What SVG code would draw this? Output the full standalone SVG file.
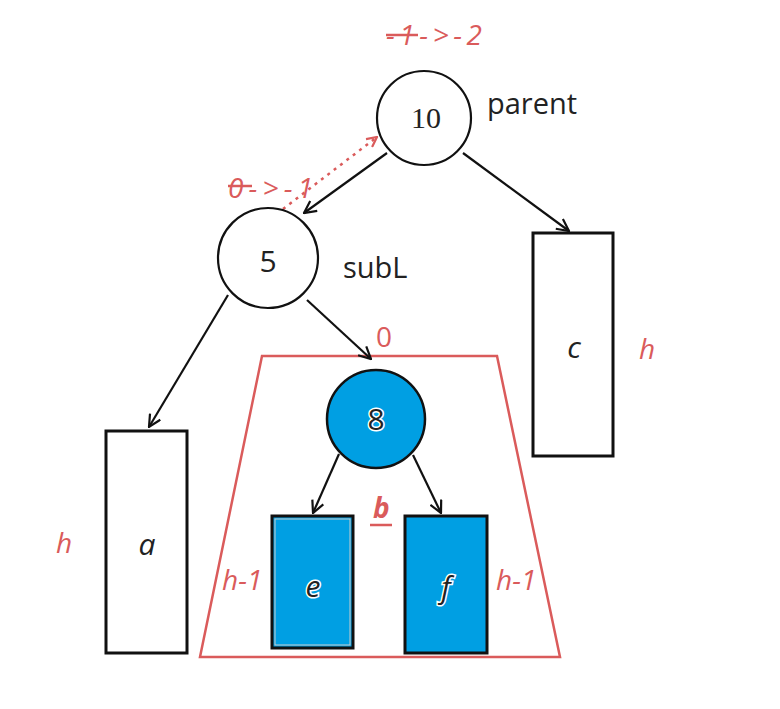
<svg xmlns="http://www.w3.org/2000/svg" width="780" height="709" viewBox="0 0 780 709">
<defs>
<marker id="arr" viewBox="0 0 14 14" refX="13" refY="7" markerWidth="14" markerHeight="14" markerUnits="userSpaceOnUse" orient="auto">
<path d="M1,1 L13,7 L1,13" fill="none" stroke="#111" stroke-width="2.2"/>
</marker>
<marker id="arrR" viewBox="0 0 12 12" refX="11" refY="6" markerWidth="12" markerHeight="12" markerUnits="userSpaceOnUse" orient="auto">
<path d="M1,1 L11,6 L1,11" fill="none" stroke="#DA5B5B" stroke-width="2.2"/>
</marker>
</defs>
<style>
.edge{stroke:#111;stroke-width:2.2;fill:none;marker-end:url(#arr)}
.circ{fill:#fff;stroke:#111;stroke-width:2.2}
.blue{fill:#009FE3;stroke:#111;stroke-width:2.5}
.box{fill:#fff;stroke:#111;stroke-width:3}
.bbox{fill:#009FE3;stroke:#111;stroke-width:3}
.lbl{font-family:"Open Sans","Liberation Sans",sans-serif;font-size:29px;fill:#222}
.num{font-family:"Open Sans","Liberation Sans",sans-serif;font-size:30px;fill:#222;text-anchor:middle}
.it{font-family:"Open Sans","Liberation Sans",sans-serif;font-style:italic;font-size:30px;fill:#222;text-anchor:middle}
.red{font-family:"Open Sans","Liberation Sans",sans-serif;font-style:italic;font-size:28px;fill:#DA5B5B}
.up{font-style:normal}
.halo{stroke:#fff;stroke-width:3;paint-order:stroke}
</style>
<rect width="780" height="709" fill="#fff"/>
<g id="subtree-b">
<polygon points="262,356 497,356 560,657 200,657" fill="none" stroke="#DA5B5B" stroke-width="2.5"/>
</g>
<g id="connectors">
<line class="edge" x1="387" y1="153" x2="304" y2="213"/>
<line x1="283" y1="209" x2="377" y2="137" stroke="#DA5B5B" stroke-width="2.5" stroke-dasharray="3,5" marker-end="url(#arrR)"/>
<line class="edge" x1="463" y1="153" x2="569" y2="231"/>
<line class="edge" x1="228" y1="295" x2="149" y2="427"/>
<line class="edge" x1="307" y1="300" x2="371" y2="359"/>
<line class="edge" x1="339" y1="454" x2="313" y2="513"/>
<line class="edge" x1="413" y1="455" x2="441" y2="513"/>
</g>
<g id="node-10">
<circle class="circ" cx="424" cy="118" r="47"/>
<text x="426" y="128" text-anchor="middle" font-family="Liberation Serif,serif" font-size="30" fill="#222">10</text>
<text class="lbl" x="487" y="114">parent</text>
<text class="red" x="386" y="45" textLength="96" lengthAdjust="spacing">-1-&gt;-2</text>
<line x1="386" y1="35" x2="418" y2="35" stroke="#DA5B5B" stroke-width="2.5"/>
</g>
<g id="node-5">
<circle class="circ" cx="268" cy="258" r="50"/>
<text class="num" x="268" y="272">5</text>
<text class="lbl" x="343" y="278">subL</text>
<text class="red" x="228" y="198" textLength="85" lengthAdjust="spacing">0-&gt;-1</text>
<line x1="228" y1="186" x2="252" y2="186" stroke="#DA5B5B" stroke-width="2.5"/>
</g>
<g id="node-8">
<circle class="blue" cx="376" cy="419" r="49"/>
<text class="num halo" x="376" y="430">8</text>
<text class="red up" x="376" y="347">0</text>
</g>
<g id="node-a">
<rect class="box" x="106" y="431" width="81" height="222"/>
<text class="it" x="147" y="555">a</text>
<text class="red" x="56" y="553" font-size="31">h</text>
</g>
<g id="node-c">
<rect class="box" x="533" y="233" width="80" height="223"/>
<text class="it" x="574" y="358">c</text>
<text class="red" x="639" y="359" font-size="31">h</text>
</g>
<g id="node-e">
<rect class="bbox" x="272" y="516" width="81" height="132"/>
<rect x="275" y="519" width="75" height="126" fill="none" stroke="#ccc" stroke-width="1"/>
<text class="it halo" x="313" y="597">e</text>
<text class="red" x="222" y="590">h-1</text>
</g>
<g id="node-f">
<rect class="bbox" x="405" y="516" width="82" height="137"/>
<text class="it halo" x="446" y="598">f</text>
<text class="red" x="496" y="590">h-1</text>
</g>
<g id="label-b">
<text class="red" x="373" y="518" font-weight="bold">b</text>
<line x1="370" y1="525" x2="392" y2="525" stroke="#DA5B5B" stroke-width="2.5"/>
</g>
</svg>
